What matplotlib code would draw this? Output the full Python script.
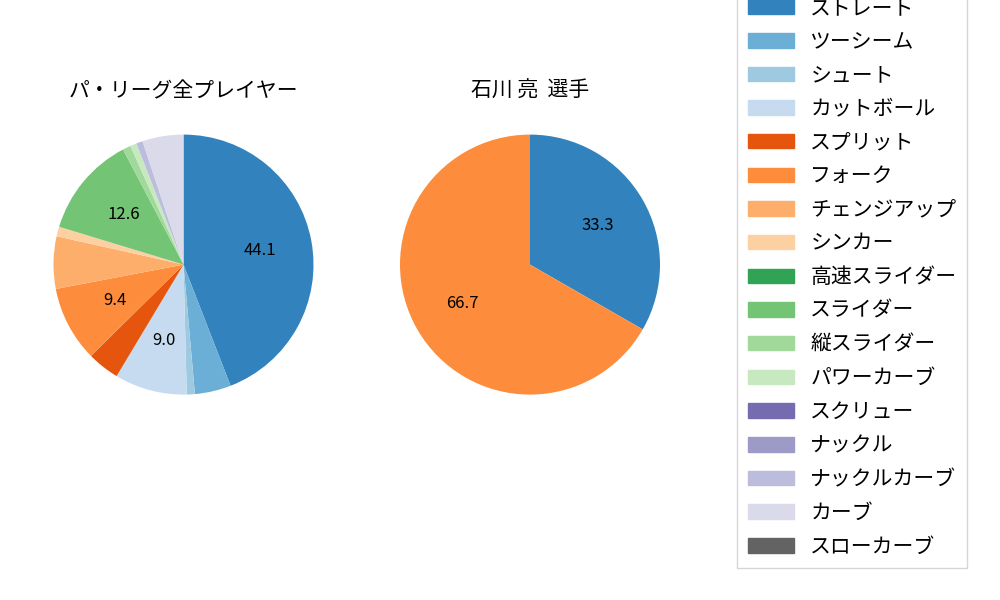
import matplotlib
matplotlib.use("Agg")
import matplotlib.pyplot as plt

plt.rcParams['font.family'] = ['Noto Sans CJK JP', 'DejaVu Sans']

pitches = ["ストレート","ツーシーム","シュート","カットボール","スプリット","フォーク","チェンジアップ","シンカー",
           "高速スライダー","スライダー","縦スライダー","パワーカーブ","スクリュー","ナックル","ナックルカーブ","カーブ","スローカーブ"]
colors = ["#3182bd","#6baed6","#9ecae1","#c6dbef","#e6550d","#fd8d3c","#fdae6b","#fdd0a2",
          "#31a354","#74c476","#a1d99b","#c7e9c0","#756bb1","#9e9ac8","#bcbddc","#dadaeb","#636363"]
league = [44.1,4.5,1.0,9.0,4.0,9.4,6.5,1.2,0,12.6,1.0,0.8,0,0,0.8,5.1,0]
player = [33.3,0,0,0,0,66.7,0,0,0,0,0,0,0,0,0,0,0]

fig = plt.figure(figsize=(10,6), dpi=100)
ax1 = fig.add_axes([0.021,0.288,0.325,0.542])
ax2 = fig.add_axes([0.3675,0.288,0.325,0.542])

def fmt(p):
    return f"{p:.1f}" if p >= 8 else ""

for ax, vals, title in [(ax1, league, "パ・リーグ全プレイヤー"), (ax2, player, "石川 亮  選手")]:
    ax.pie(vals, colors=colors, startangle=90, counterclock=False, autopct=fmt,
           pctdistance=0.6, textprops={'fontsize':12})
    ax.set_title(title, fontsize=15, pad=-2)
    ax.set_aspect('equal')

handles = [plt.Rectangle((0,0),1,1,color=c) for c in colors]
fig.legend(handles, pitches, loc='upper left', bbox_to_anchor=(0.727,1.04),
           fontsize=15, frameon=True, handlelength=2.2, labelspacing=0.56,
           borderpad=0.5, fancybox=False, edgecolor='#cccccc')
fig.savefig("out.png")
